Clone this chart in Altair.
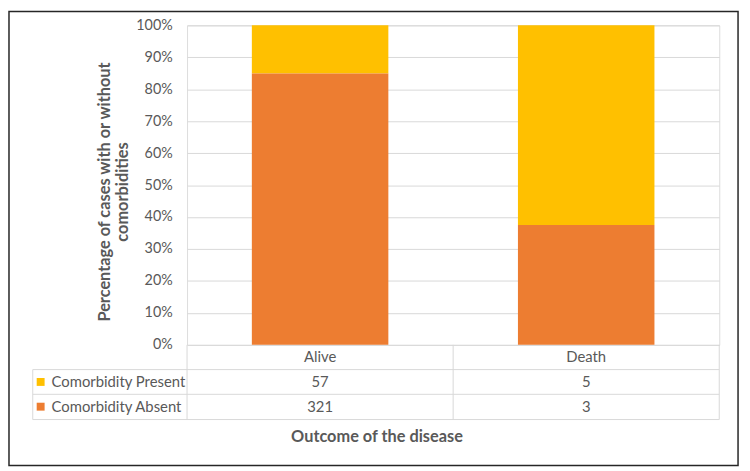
import altair as alt
import pandas as pd

outcomes = ["Alive", "Death"]
series = ["Comorbidity Present", "Comorbidity Absent"]
present = [57, 5]
absent = [321, 3]
y_ticks = [0, 0.1, 0.2, 0.3, 0.4, 0.5, 0.6, 0.7, 0.8, 0.9, 1.0]
colors = ["#FFC000", "#ED7D31"]

rows = []
for i, o in enumerate(outcomes):
    rows.append({"Outcome": o, "Series": series[0], "count": present[i], "ord": 1})
    rows.append({"Outcome": o, "Series": series[1], "count": absent[i], "ord": 0})
df = pd.DataFrame(rows)

TXT = "#595959"
GRID = "#D9D9D9"
FONT = "Lato"
FS = 15

xscale = alt.Scale(domain=outcomes, paddingInner=0.487, paddingOuter=0.2435)
cscale = alt.Scale(domain=series, range=colors)

bars = alt.Chart(df).mark_bar().encode(
    x=alt.X("Outcome:N", scale=xscale, axis=None),
    y=alt.Y(
        "count:Q",
        stack="normalize",
        scale=alt.Scale(domain=[0, 1]),
        axis=alt.Axis(
            values=y_ticks,
            format=".0%",
            grid=True,
            gridColor=GRID,
            gridWidth=1,
            domain=False,
            ticks=False,
            tickSize=0,
            labelPadding=15,
            labelFontSize=14.5,
            labelColor=TXT,
            labelFont=FONT,
            title=["Percentage of cases with or without", "comorbidities"],
            titleFont=FONT,
            titleFontSize=16.5,
            titleFontWeight="bold",
            titleColor=TXT,
            titleLineHeight=19,
            titlePadding=5,
            titleY=168,
        ),
    ),
    color=alt.Color("Series:N", scale=cscale, legend=None),
    order=alt.Order("ord:Q"),
)

hdr_df = pd.DataFrame({"Outcome": outcomes})
header = alt.Chart(hdr_df).mark_text(fontSize=FS, color=TXT, font=FONT, baseline="middle").encode(
    x=alt.X("Outcome:N", scale=xscale, axis=None),
    y=alt.value(335.5),
    text="Outcome:N",
)

val_present = alt.Chart(df).transform_filter(alt.datum.Series == series[0]).mark_text(
    fontSize=FS, color=TXT, font=FONT, baseline="middle"
).encode(
    x=alt.X("Outcome:N", scale=xscale, axis=None),
    y=alt.value(360.5),
    text="count:Q",
)
val_absent = alt.Chart(df).transform_filter(alt.datum.Series == series[1]).mark_text(
    fontSize=FS, color=TXT, font=FONT, baseline="middle"
).encode(
    x=alt.X("Outcome:N", scale=xscale, axis=None),
    y=alt.value(385.5),
    text="count:Q",
)

leg_df = pd.DataFrame({"Series": series})
sw_p = alt.Chart(leg_df).transform_filter(alt.datum.Series == series[0]).mark_square(size=64, opacity=1).encode(
    x=alt.value(-148), y=alt.value(360.5), color=alt.Color("Series:N", scale=cscale, legend=None)
)
sw_a = alt.Chart(leg_df).transform_filter(alt.datum.Series == series[1]).mark_square(size=64, opacity=1).encode(
    x=alt.value(-148), y=alt.value(385.5), color=alt.Color("Series:N", scale=cscale, legend=None)
)
lt_p = alt.Chart(leg_df).transform_filter(alt.datum.Series == series[0]).mark_text(
    fontSize=FS, color=TXT, font=FONT, align="left", baseline="middle"
).encode(x=alt.value(-137), y=alt.value(360.5), text="Series:N")
lt_a = alt.Chart(leg_df).transform_filter(alt.datum.Series == series[1]).mark_text(
    fontSize=FS, color=TXT, font=FONT, align="left", baseline="middle"
).encode(x=alt.value(-137), y=alt.value(385.5), text="Series:N")

one = pd.DataFrame({"k": [0]})

def hline(y, x1, x2):
    return alt.Chart(one).mark_rule(color=GRID, strokeWidth=1).encode(
        x=alt.value(x1), x2=alt.value(x2), y=alt.value(y)
    )

def vline(x, y1, y2):
    return alt.Chart(one).mark_rule(color=GRID, strokeWidth=1).encode(
        x=alt.value(x), y=alt.value(y1), y2=alt.value(y2)
    )

lines = [
    hline(348, -156, 538),
    hline(373, -156, 538),
    hline(398.5, -156, 538),
    vline(-156, 348, 398.5),
    vline(0, 323, 398.5),
    vline(269, 323, 398.5),
    vline(538, 323, 398.5),
]

xtitle = alt.Chart(one).mark_text(
    text="Outcome of the disease", fontSize=16.5, fontWeight="bold", color=TXT, font=FONT, baseline="middle"
).encode(x=alt.value(192), y=alt.value(416))

border = alt.Chart(one).mark_rect(fill="transparent", stroke="#262626", strokeWidth=1.5).encode(
    x=alt.value(-180), x2=alt.value(557), y=alt.value(-14), y2=alt.value(445)
)

chart = alt.layer(
    *lines, bars, header, val_present, val_absent, sw_p, sw_a, lt_p, lt_a, xtitle, border
).properties(
    width=538,
    height=323,
    autosize=alt.AutoSizeParams(type="none"),
    padding={"left": 181, "top": 15, "right": 23, "bottom": 125},
).configure_view(stroke=None).configure(font=FONT, background="white")

chart.save("out.html", embed_options={"renderer": "svg", "actions": False})
